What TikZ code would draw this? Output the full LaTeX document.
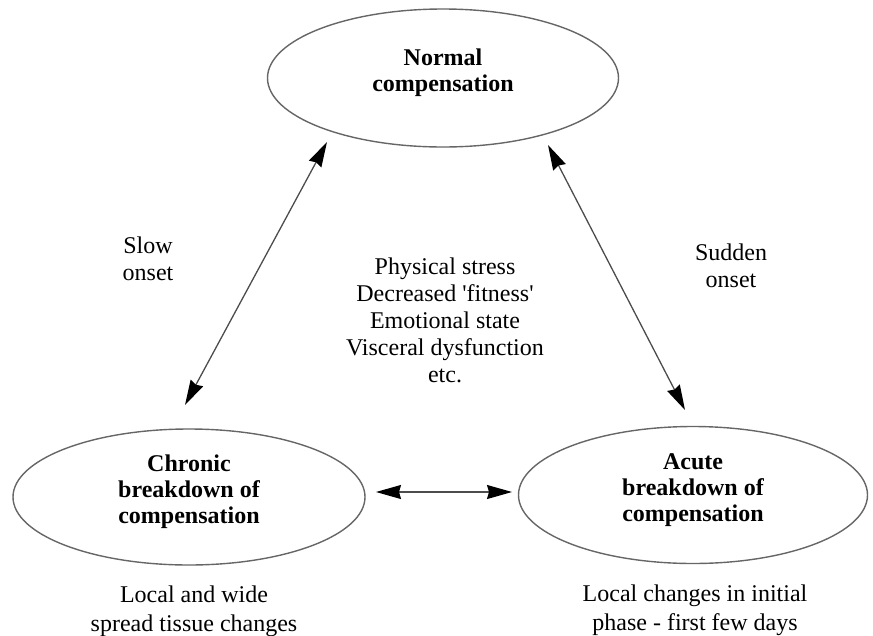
\documentclass[tikz,border=0pt]{standalone}
\usepackage{fontspec}
\setmainfont{Liberation Serif}
\usetikzlibrary{shapes.geometric,arrows.meta}
\begin{document}
\begin{tikzpicture}[x=1pt,y=-1pt,
  ell/.style={ellipse, draw=black!60, line width=1.4pt,
    font=\fontsize{24}{26}\selectfont\bfseries, align=center,
    inner sep=0pt, text depth=15pt},
  lbl/.style={font=\fontsize{24}{27}\selectfont, align=center, inner sep=0pt},
  lowlbl/.style={font=\fontsize{24}{29}\selectfont, align=center, inner sep=0pt},
  dbl/.style={{Stealth[length=25pt,width=14pt,inset=2pt,color=black]}-{Stealth[length=25pt,width=14pt,inset=2pt,color=black]},
    draw=black!70, line width=1.3pt}]
\useasboundingbox (0,0) rectangle (873,635);

\node[ell, minimum width=351pt, minimum height=138pt] (normal) at (443,78)
  {Normal\\compensation};
\node[ell, minimum width=352pt, minimum height=136pt] (chronic) at (189,497)
  {Chronic\\breakdown of\\compensation};
\node[ell, minimum width=349pt, minimum height=137pt] (acute) at (693,495)
  {Acute\\breakdown of\\compensation};

\node[lbl] (slow) at (148,259) {Slow\\onset};
\node[lbl] (sudden) at (731,266) {Sudden\\onset};
\node[lbl] (factors) at (445,320)
  {Physical stress\\Decreased \textquotesingle fitness\textquotesingle\\Emotional state\\Visceral dysfunction\\etc.};
\node[lowlbl] (chronicnote) at (194,611) {Local and wide\\spread tissue changes};
\node[lowlbl] (acutenote) at (695,610) {Local changes in initial\\phase - first few days};

\coordinate (l1) at (185,405);
\coordinate (l2) at (327,142);
\coordinate (r1) at (548,145);
\coordinate (r2) at (685,410);
\coordinate (h1) at (376,492);
\coordinate (h2) at (512,492);

\draw[dbl] (l1) -- (l2);
\draw[dbl] (r1) -- (r2);
\draw[dbl] (h1) -- (h2);
\end{tikzpicture}
\end{document}
